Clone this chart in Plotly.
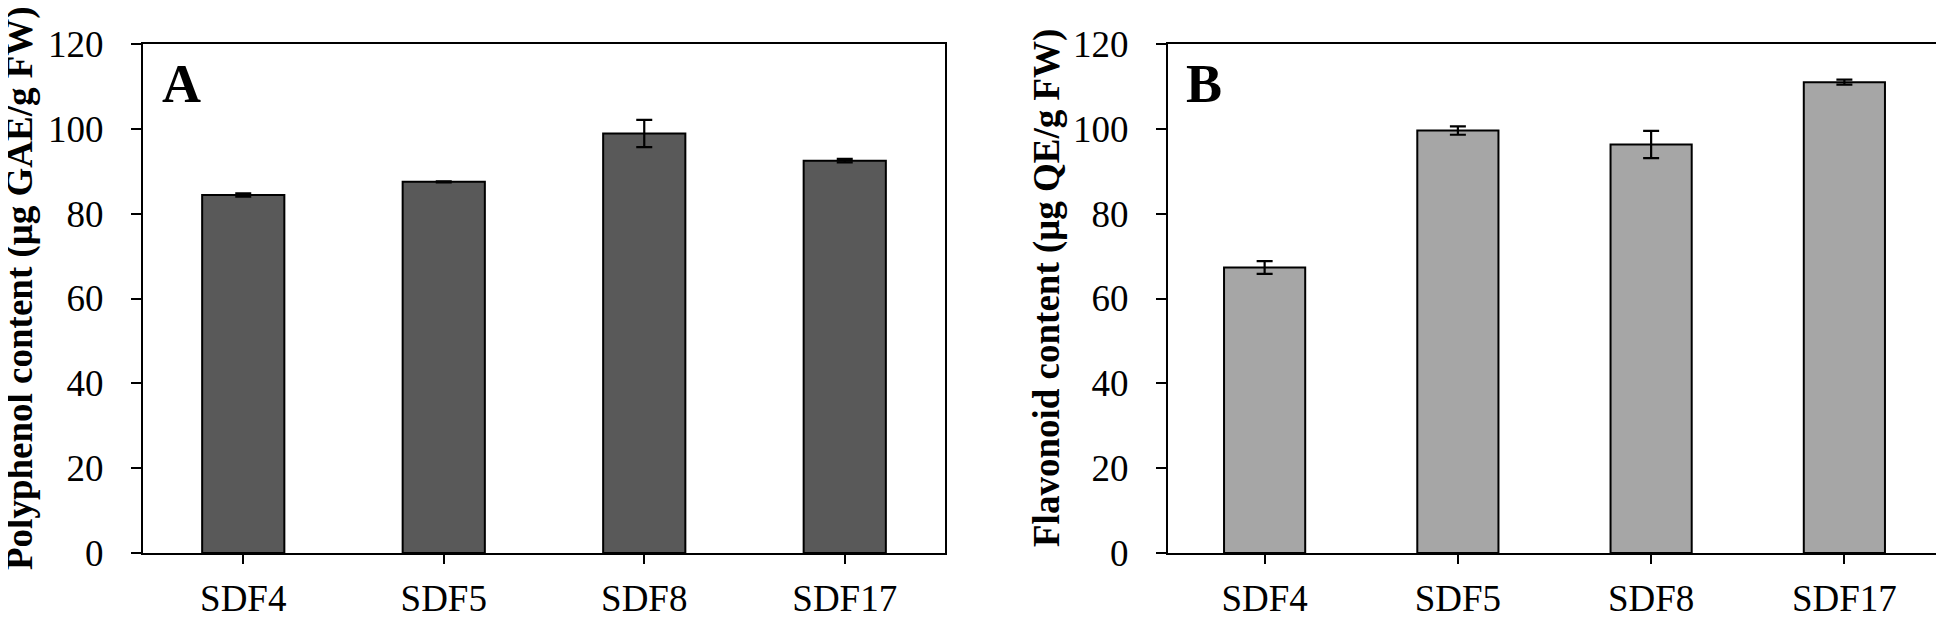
import plotly.graph_objects as go

categories = ["SDF4", "SDF5", "SDF8", "SDF17"]
polyphenol = [84.4, 87.5, 98.9, 92.5]
polyphenol_err = [0.4, 0.1, 3.2, 0.4]
flavonoid = [67.3, 99.6, 96.3, 111.0]
flavonoid_err = [1.5, 1.0, 3.2, 0.6]
y_ticks = [0, 20, 40, 60, 80, 100, 120]

W, H = 1944, 617
OFF = 8  # page body margin in the browser
FONT = "Liberation Serif"

def px_x(p):
    return (p - OFF) / W

def px_y(p):
    return (H - (p - OFF)) / H

fig = go.Figure()

fig.add_trace(go.Bar(
    x=categories, y=polyphenol, width=0.41,
    marker=dict(color="#595959", line=dict(color="black", width=2)),
    error_y=dict(type="data", array=polyphenol_err, visible=True,
                 color="black", thickness=2.2, width=8),
    xaxis="x", yaxis="y", showlegend=False,
))
fig.add_trace(go.Bar(
    x=categories, y=flavonoid, width=0.42,
    marker=dict(color="#a6a6a6", line=dict(color="black", width=2)),
    error_y=dict(type="data", array=flavonoid_err, visible=True,
                 color="black", thickness=2.2, width=8),
    xaxis="x2", yaxis="y2", showlegend=False,
))

ydom = [px_y(553), px_y(44)]
common_x = dict(showline=True, linecolor="black", linewidth=2, mirror=True,
                ticks="outside", ticklen=9, tickwidth=2, tickcolor="black",
                tickfont=dict(family=FONT, size=37, color="black"),
                showgrid=False, zeroline=False, fixedrange=True,
                automargin=False, ticklabelstandoff=3)
common_y = dict(showline=True, linecolor="black", linewidth=2, mirror=True,
                ticks="outside", ticklen=10, tickwidth=2, tickcolor="black",
                tickfont=dict(family=FONT, size=37, color="black"),
                range=[0, 120], tickvals=y_ticks, showgrid=False,
                zeroline=False, fixedrange=True, automargin=False,
                ticklabelstandoff=20)

fig.update_layout(
    width=W, height=H,
    margin=dict(l=0, r=0, t=0, b=0, pad=0),
    paper_bgcolor="white", plot_bgcolor="white",
    font=dict(family=FONT, color="black"),
    xaxis=dict(domain=[px_x(143), px_x(945)], anchor="y", **common_x),
    yaxis=dict(domain=ydom, anchor="x", **common_y),
    xaxis2=dict(domain=[px_x(1168), px_x(1941)], anchor="y2", **common_x),
    yaxis2=dict(domain=ydom, anchor="x2", **common_y),
    bargap=0.5,
)

annos = [
    dict(text="<b>Polyphenol content (μg GAE/g FW)</b>", x=px_x(20), y=px_y(288),
         textangle=-90, font=dict(family=FONT, size=37, color="black")),
    dict(text="<b>Flavonoid content (μg QE/g FW)</b>", x=px_x(1047), y=px_y(288),
         textangle=-90, font=dict(family=FONT, size=37, color="black")),
    dict(text="<b>A</b>", x=px_x(181), y=px_y(84),
         font=dict(family=FONT, size=54, color="black")),
    dict(text="<b>B</b>", x=px_x(1204), y=px_y(84),
         font=dict(family=FONT, size=54, color="black")),
]
for a in annos:
    fig.add_annotation(xref="paper", yref="paper", showarrow=False,
                       xanchor="center", yanchor="middle", **a)

fig.write_html("out.html")
